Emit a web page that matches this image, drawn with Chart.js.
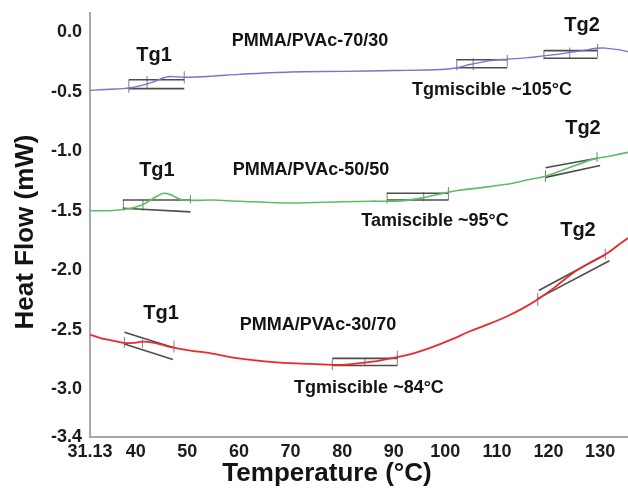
<!DOCTYPE html>
<html><head><meta charset="utf-8">
<script src="https://cdn.jsdelivr.net/npm/chart.js@4/dist/chart.umd.min.js"></script>
<style>html,body{margin:0;padding:0;background:#fff;overflow:hidden}</style>
</head><body>
<canvas id="c" width="628" height="489" style="width:628px;height:489px;display:block"></canvas>
<script>
// ---- tick labels ----
const xTickValues = [31.13,40,50,60,70,80,90,100,110,120,130];
const yTickValues = [0,-0.5,-1,-1.5,-2,-2.5,-3,-3.4];

// ---- DSC curves: temperature (°C) and heat flow (mW) ----
const tBlue = [31.13,33,35,37.5,38.7,41,43.3,46.2,49.4,54.8,60,70,80,90,99.2,102.2,105,108.8,112,116,119,122,125,127.4,129.4,131,133.8,135.4];
const hfBlue = [-0.49,-0.485,-0.48,-0.475,-0.47,-0.45,-0.42,-0.375,-0.38,-0.37,-0.355,-0.335,-0.33,-0.323,-0.315,-0.30,-0.27,-0.24,-0.228,-0.215,-0.20,-0.185,-0.165,-0.15,-0.136,-0.135,-0.15,-0.165];

const tGreen = [31.13,35,37.5,39.5,41.3,43.3,45.2,46.7,49.1,54.8,60,70,80,85.7,88.7,92,95.8,100.6,102.4,108.2,113.3,116,119.4,124.2,128.7,132,135.4];
const hfGreen = [-1.50,-1.50,-1.49,-1.475,-1.45,-1.40,-1.355,-1.365,-1.41,-1.41,-1.42,-1.435,-1.425,-1.42,-1.42,-1.415,-1.39,-1.345,-1.33,-1.30,-1.267,-1.24,-1.21,-1.136,-1.067,-1.04,-1.01];

const tRed = [31.13,33,35.5,37.8,39.5,41.3,43,45,47.4,50,54.8,60,65,70,76,80,84.4,87,90.7,94,97.2,101,104.9,108.5,112,115,117.8,121,124.8,128.7,131.3,133.8,135.4];
const hfRed = [-2.54,-2.567,-2.59,-2.61,-2.61,-2.60,-2.605,-2.625,-2.65,-2.67,-2.70,-2.74,-2.765,-2.78,-2.79,-2.795,-2.775,-2.76,-2.73,-2.695,-2.65,-2.585,-2.51,-2.45,-2.386,-2.32,-2.247,-2.15,-2.02,-1.92,-1.86,-1.78,-1.73];

// ---- Tg construction lines: [T1, HF1, T2, HF2] ----
const blueTg1Lines = [[38.65,-0.40,49.4,-0.40],[38.65,-0.475,49.4,-0.475]];
const blueTg1Marks = [[38.65,-0.40,38.65,-0.51],[42.2,-0.37,42.2,-0.48],[49.4,-0.33,49.4,-0.43]];
const blueTgmLines = [[102.2,-0.233,112,-0.233],[102.2,-0.30,112,-0.30]];
const blueTgmMarks = [[102.2,-0.227,102.2,-0.32],[105.4,-0.22,105.4,-0.32],[112,-0.19,112,-0.29]];
const blueTg2Lines = [[119.1,-0.156,129.5,-0.156],[119.1,-0.22,129.5,-0.22]];
const blueTg2Marks = [[119.1,-0.15,119.1,-0.23],[124.1,-0.13,124.1,-0.22],[129.5,-0.10,129.5,-0.21]];

const greenTg1Lines = [[37.5,-1.41,50.6,-1.41],[37.5,-1.48,50.6,-1.51]];
const greenTg1Marks = [[37.6,-1.41,37.6,-1.50],[41.4,-1.41,41.4,-1.50],[50.6,-1.37,50.6,-1.44]];
const greenTgmLines = [[88.7,-1.353,100.6,-1.353],[88.7,-1.41,100.6,-1.41]];
const greenTgmMarks = [[88.7,-1.345,88.7,-1.44],[95.8,-1.345,95.8,-1.42],[100.6,-1.30,100.6,-1.41]];
const greenTg2Lines = [[119.4,-1.14,129.4,-1.06],[119.4,-1.22,130.0,-1.12]];
const greenTg2Marks = [[119.4,-1.16,119.4,-1.26],[129.4,-1.01,129.4,-1.09]];

const redTg1Lines = [[37.8,-2.52,47.4,-2.65],[37.8,-2.62,47.2,-2.75]];
const redTg1Marks = [[37.8,-2.56,37.8,-2.65],[41.3,-2.58,41.3,-2.65],[47.4,-2.59,47.4,-2.69]];
const redTgmLines = [[78.1,-2.74,90.7,-2.74],[78.1,-2.80,90.7,-2.80]];
const redTgmMarks = [[78.1,-2.74,78.1,-2.84],[84.4,-2.735,84.4,-2.80],[90.7,-2.675,90.7,-2.80]];
const redTg2Lines = [[118.1,-2.17,131.0,-1.87],[117.8,-2.24,131.8,-1.92]];
const redTg2Marks = [[117.9,-2.19,117.9,-2.30],[131.0,-1.82,131.0,-1.91]];

// ---- text notes anchored at (T, HF) ----
const noteTexts = ['Tg1','Tg1','Tg1','Tg2','Tg2','Tg2','PMMA/PVAc-70/30','PMMA/PVAc-50/50','PMMA/PVAc-30/70','Tgmiscible ~105°C','Tamiscible ~95°C','Tgmiscible ~84°C'];
const noteT  = [43.53,44.1,44.89,126.48,126.67,125.7,73.77,73.96,75.32,109.04,97.99,85.2];
const noteHF = [-0.243,-1.209,-2.41,0.008,-0.856,-1.713,-0.118,-1.20,-2.502,-0.529,-1.629,-3.031];

const pts = (xs, ys) => xs.map((v,i)=>({x:v,y:ys[i]}));
const curve = (label, xs, ys, color, w) => ({label, data: pts(xs,ys), borderColor: color, borderWidth: w, showLine: true, pointRadius: 0, tension: 0.3, fill:false});

const datasets = [
  curve('PMMA/PVAc-70/30', tBlue, hfBlue, '#7474d4', 1.4),
  curve('PMMA/PVAc-50/50', tGreen, hfGreen, '#5fbe5f', 1.6),
  curve('PMMA/PVAc-30/70', tRed, hfRed, '#ec2a2a', 1.8)
];
const addSegs = (segs, color, w) => segs.forEach(s => datasets.push({
  data: [{x:s[0],y:s[1]},{x:s[2],y:s[3]}], borderColor: color, borderWidth: w, showLine: true, pointRadius: 0, fill:false
}));
[blueTg1Lines,blueTgmLines,blueTg2Lines,greenTg1Lines,greenTgmLines,greenTg2Lines,redTg1Lines,redTgmLines,redTg2Lines].forEach(s=>addSegs(s,'#4d4d4d',1.6));
[blueTg1Marks,blueTgmMarks,blueTg2Marks,greenTg1Marks,greenTgmMarks,greenTg2Marks,redTg1Marks,redTgmMarks,redTg2Marks].forEach(s=>addSegs(s,'#8a8a8a',1.1));

const FONT = "'Liberation Sans', Arial, sans-serif";
const textPlugin = {
  id: 'texts',
  afterDraw(chart){
    const {ctx, scales:{x,y}} = chart;
    ctx.save();
    ctx.fillStyle = '#141414';
    ctx.textAlign = 'center';
    ctx.textBaseline = 'alphabetic';
    noteTexts.forEach((t,i)=>{
      const big = t.startsWith('Tg') && t.length === 3;
      ctx.font = (big ? 'bold 20px ' : 'bold 18px ') + FONT;
      ctx.fillText(t, x.getPixelForValue(noteT[i]), y.getPixelForValue(noteHF[i]));
    });
    ctx.font = 'bold 26px ' + FONT;
    ctx.fillText('Temperature (°C)', 327, 481);
    ctx.translate(33, 232);
    ctx.rotate(-Math.PI/2);
    ctx.fillText('Heat Flow (mW)', 0, 0);
    ctx.restore();
  }
};

const tickFont = {family: FONT, size: 18, weight: 'bold'};

new Chart(document.getElementById('c'), {
  type: 'scatter',
  data: { datasets },
  options: {
    responsive: false,
    animation: false,
    devicePixelRatio: 1,
    layout: { padding: {left: 0, right: 0, top: 13, bottom: 0} },
    plugins: { legend: {display:false}, tooltip: {enabled:false} },
    scales: {
      x: {
        type: 'linear', min: 31.13, max: 135.4,
        grid: {display: false, drawTicks: false},
        border: {display: true, color: '#a8a8a8', width: 2},
        afterBuildTicks: s => { s.ticks = xTickValues.map(v=>({value:v})); },
        afterFit: s => { s.height = 52; s.paddingLeft = 0; s.paddingRight = 0; },
        ticks: { font: tickFont, color: '#1c1c1c', padding: 4, maxRotation: 0, autoSkip: false,
          callback: v => v === 31.13 ? '31.13' : String(v) }
      },
      y: {
        type: 'linear', min: -3.4, max: 0.16,
        grid: {display: false, drawTicks: false},
        border: {display: true, color: '#a8a8a8', width: 2},
        afterBuildTicks: s => { s.ticks = yTickValues.map(v=>({value:v})); },
        afterFit: s => { s.width = 90; s.paddingTop = 0; s.paddingBottom = 0; },
        ticks: { font: tickFont, color: '#1c1c1c', padding: 8, autoSkip: false,
          callback: v => v.toFixed(1) }
      }
    }
  },
  plugins: [textPlugin]
});
</script>
</body></html>
